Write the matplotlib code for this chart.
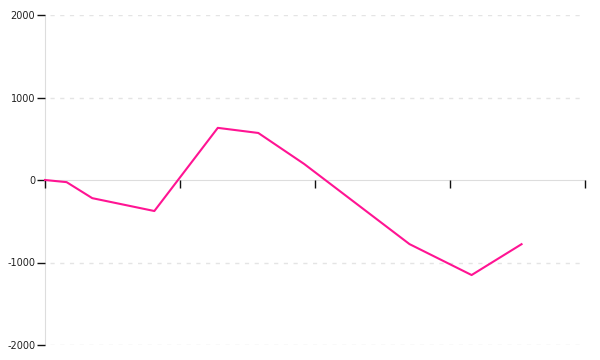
import matplotlib
matplotlib.use("Agg")
import matplotlib.pyplot as plt

x_values = [0, 16, 35, 81, 128, 158, 192, 270, 316, 353]
y_values = [0, -26, -220, -376, 632, 570, 194, -777, -1152, -778]
x_ticks = [0, 100, 200, 300, 400]
y_ticks = [-2000, -1000, 0, 1000, 2000]

fig = plt.figure(figsize=(6, 3.6), dpi=100)
ax = fig.add_axes([45/600, 15/360, 540/600, 330/360])

ax.plot(x_values, y_values, color="#ff1493", lw=1.5, solid_joinstyle="round", zorder=3, clip_on=False)

ax.set_xlim(0, 400)
ax.set_ylim(-2000, 2000)
ax.set_xticks(x_ticks)
ax.set_xticklabels([])
ax.set_yticks(y_ticks)
ax.set_yticklabels([str(v) for v in y_ticks], fontsize=7, color="#222222")

for s in ["top", "right"]:
    ax.spines[s].set_visible(False)
ax.spines["left"].set_color("#dddddd")
ax.spines["bottom"].set_color("#dddddd")
ax.spines["left"].set_zorder(0.5)
ax.spines["bottom"].set_zorder(0.5)
ax.spines["bottom"].set_position(("data", 0))

ax.tick_params(axis="x", direction="out", length=6, width=1, color="#111111")
ax.tick_params(axis="y", direction="out", length=6, width=1, color="#111111", pad=1)

for yv in y_ticks:
    if yv != 0:
        ax.axhline(yv, xmin=0.01, color="#e4e4e4", lw=1, ls=(0, (3, 4)), zorder=0)

fig.savefig("out.png", dpi=100)
